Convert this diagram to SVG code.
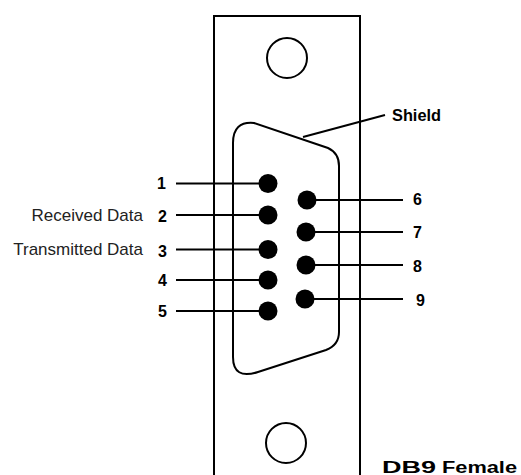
<svg xmlns="http://www.w3.org/2000/svg" width="521" height="475" viewBox="0 0 521 475">
<style>
.ln{stroke:#000;stroke-width:2;fill:none}
.pin{fill:#000}
.num{font-family:"Liberation Sans",Arial,sans-serif;font-weight:bold;font-size:16px;fill:#000}
.lbl{font-family:"Liberation Sans",Arial,sans-serif;font-size:17px;fill:#222}
</style>
<rect width="521" height="475" fill="#fff"/>
<g id="plate">
<path class="ln" d="M214,476 L214,16 L360,16 L360,476"/>
<circle class="ln" cx="287" cy="58" r="20"/>
<circle class="ln" cx="286" cy="443" r="20"/>
</g>
<g id="shell">
<path class="ln" d="M233,357 L233,143 Q233,121 254,123 L328,148 Q339,153 339,166 L339,332 Q339,345 326,350 L258,372 Q233,380 233,357 Z"/>
</g>
<g id="connectors">
<line class="ln" x1="303" y1="137" x2="385" y2="115"/>
<line class="ln" x1="176" y1="183.5" x2="268" y2="183.5"/>
<line class="ln" x1="176" y1="215" x2="268" y2="215"/>
<line class="ln" x1="176" y1="249.5" x2="268" y2="249.5"/>
<line class="ln" x1="176" y1="280" x2="268" y2="280"/>
<line class="ln" x1="176" y1="311" x2="268" y2="311"/>
<line class="ln" x1="307" y1="200" x2="403" y2="200"/>
<line class="ln" x1="306" y1="232" x2="403" y2="232"/>
<line class="ln" x1="306" y1="265" x2="403" y2="265"/>
<line class="ln" x1="305" y1="299" x2="403" y2="299"/>
</g>
<g id="pin1"><circle class="pin" cx="268" cy="183.5" r="9.5"/><text class="num" x="166" y="189" text-anchor="end">1</text></g>
<g id="pin2"><circle class="pin" cx="268" cy="215" r="9.5"/><text class="num" x="167" y="222" text-anchor="end">2</text><text class="lbl" x="143" y="221" text-anchor="end">Received Data</text></g>
<g id="pin3"><circle class="pin" cx="268" cy="249.5" r="9.5"/><text class="num" x="167" y="257" text-anchor="end">3</text><text class="lbl" x="143" y="255" text-anchor="end">Transmitted Data</text></g>
<g id="pin4"><circle class="pin" cx="268" cy="280" r="9.5"/><text class="num" x="167" y="286" text-anchor="end">4</text></g>
<g id="pin5"><circle class="pin" cx="268" cy="311" r="9.5"/><text class="num" x="167" y="317" text-anchor="end">5</text></g>
<g id="pin6"><circle class="pin" cx="307" cy="200" r="9.5"/><text class="num" x="413" y="205">6</text></g>
<g id="pin7"><circle class="pin" cx="306" cy="232" r="9.5"/><text class="num" x="413" y="238">7</text></g>
<g id="pin8"><circle class="pin" cx="306" cy="265" r="9.5"/><text class="num" x="413" y="272">8</text></g>
<g id="pin9"><circle class="pin" cx="305" cy="299" r="9.5"/><text class="num" x="416" y="306">9</text></g>
<g id="shield-label"><text class="num" x="392" y="121" font-size="14" textLength="49" lengthAdjust="spacingAndGlyphs">Shield</text></g>
<g id="title">
<text class="num" x="382" y="473" font-size="20" textLength="54" lengthAdjust="spacingAndGlyphs">DB9</text>
<text class="num" x="442" y="473" font-size="16" textLength="75" lengthAdjust="spacingAndGlyphs">Female</text>
</g>
</svg>
